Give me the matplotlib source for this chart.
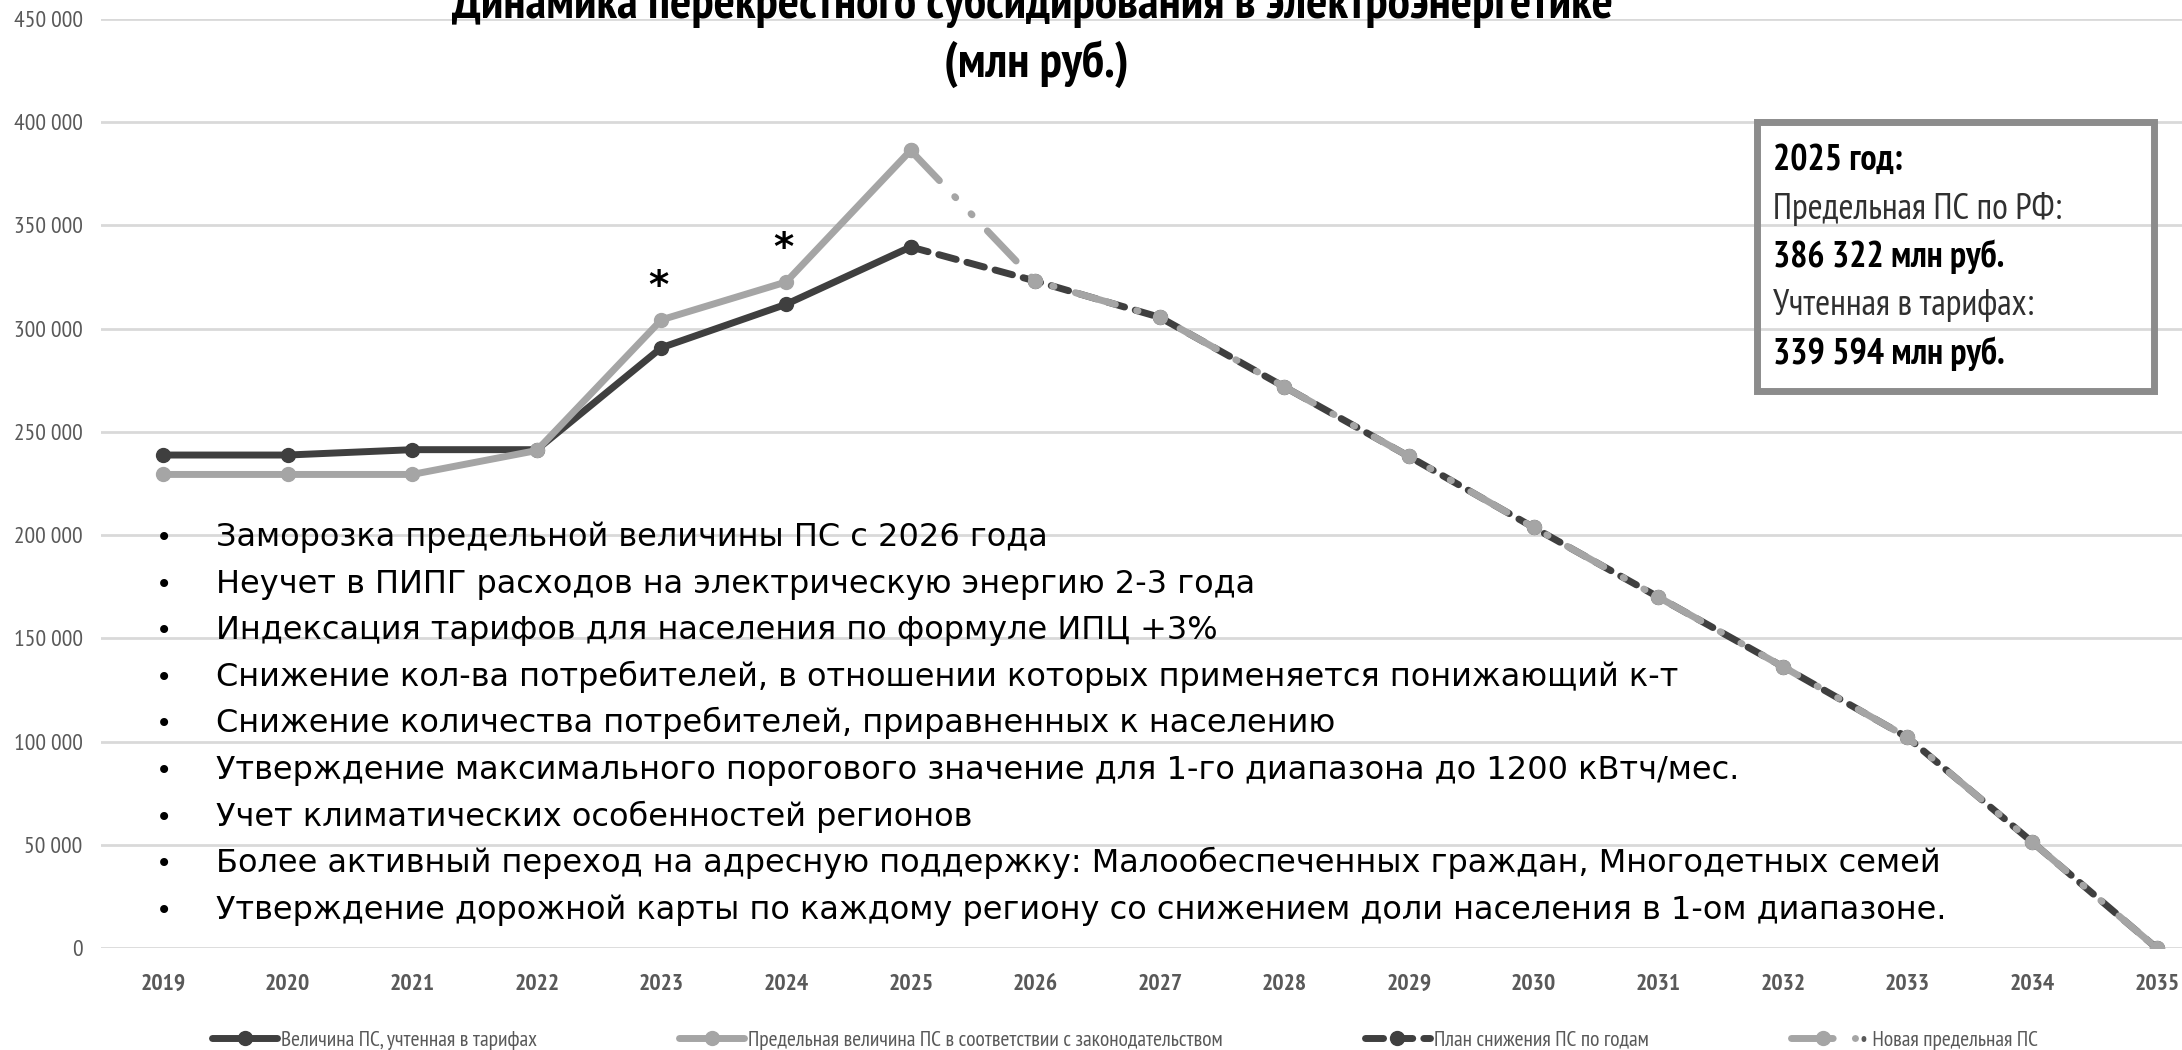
import numpy as np
import matplotlib
matplotlib.use("Agg")
import matplotlib.pyplot as plt
from matplotlib.ticker import FuncFormatter
from matplotlib.patches import Rectangle

# Data (млн руб.)
years = [str(y) for y in range(2019, 2036)]
fact_ps = [238800, 238800, 241400, 241400, 290800, 311800, 339594]        # учтенная в тарифах
limit_ps = [229400, 229400, 229400, 241000, 304300, 322600, 386322]       # предельная по закону
plan_ps = [339594, 323100, 305500, 271800, 238100, 203700, 170000, 136300, 102000, 51400, 0]
new_limit_ps = [386322, 323100, 305500, 271800, 238100, 203700, 170000, 136300, 102000, 51400, 0]
star_years = ["2023", "2024"]

labels = ["Величина ПС, учтенная в тарифах",
          "Предельная величина ПС в соответствии с законодательством",
          "План снижения ПС по годам",
          "• Новая предельная ПС"]

bullets = ["Заморозка предельной величины ПС с 2026 года",
           "Неучет в ПИПГ расходов на электрическую энергию 2-3 года",
           "Индексация тарифов для населения по формуле ИПЦ +3%",
           "Снижение кол-ва потребителей, в отношении которых применяется понижающий к-т",
           "Снижение количества потребителей, приравненных к населению",
           "Утверждение максимального порогового значение для 1-го диапазона до 1200 кВтч/мес.",
           "Учет климатических особенностей регионов",
           "Более активный переход на адресную поддержку: Малообеспеченных граждан, Многодетных семей",
           "Утверждение дорожной карты по каждому региону со снижением доли населения в 1-ом диапазоне."]

box_lines = [("2025 год:", "bold"),
             ("Предельная ПС по РФ:", "normal"),
             ("386 322 млн руб.", "bold"),
             ("Учтенная в тарифах:", "normal"),
             ("339 594 млн руб.", "bold")]

narrow = ["PT Sans Narrow", "Roboto Condensed", "Open Sans Condensed",
          "Liberation Sans Narrow", "DejaVu Sans"]
dark = "#3f3f3f"
gray = "#a5a5a5"
plt.rcParams["lines.scale_dashes"] = False

fig = plt.figure(figsize=(21.82, 10.5), dpi=100)
ax = fig.add_axes([0.04615, 0.0971, 0.9708, 0.8848])

x_fact = np.arange(len(fact_ps))
x_plan = np.arange(len(fact_ps) - 1, len(years))

ax.plot(x_fact, fact_ps, color=dark, lw=5, marker="o", ms=10,
        solid_capstyle="round", label=labels[0], zorder=3)
ax.plot(x_fact, limit_ps, color=gray, lw=5, marker="o", ms=10,
        solid_capstyle="round", label=labels[1], zorder=4)
ax.plot(x_plan, plan_ps, color=dark, lw=5, marker="o", ms=10,
        dashes=(13, 8), dash_capstyle="round", label=labels[2], zorder=3)
ax.plot(x_plan, new_limit_ps, color=gray, lw=5, marker="o", ms=10,
        dashes=(30, 16, 1, 16, 1, 16), dash_capstyle="round", label=labels[3], zorder=4)

for yr in star_years:
    i = years.index(yr)
    ax.annotate("*", xy=(i, limit_ps[i]), xytext=(-2, 16), textcoords="offset points",
                ha="center", va="baseline", fontsize=28, fontweight="bold", color="black")

ax.set_xlim(-0.5, len(years) - 0.5)
ax.set_ylim(0, 450000)
ax.set_yticks(np.arange(0, 450001, 50000))
ax.yaxis.set_major_formatter(FuncFormatter(lambda v, p: f"{int(v):,}".replace(",", " ")))
ax.set_xticks(np.arange(len(years)))
ax.set_xticklabels(years)
ax.grid(axis="y", color="#d9d9d9", lw=2)
ax.set_axisbelow(True)
for s in ax.spines.values():
    s.set_visible(False)
ax.tick_params(axis="both", length=0, colors="#595959")
ax.tick_params(axis="y", pad=13)
ax.tick_params(axis="x", pad=19)
for t in ax.get_yticklabels():
    t.set_family(narrow)
    t.set_fontsize(17)
for t in ax.get_xticklabels():
    t.set_family(narrow)
    t.set_fontsize(17)
    t.set_fontweight("bold")

# Title
fig.text(0.473, 1 - 18 / 1050, "Динамика перекрестного субсидирования в электроэнергетике",
         ha="center", va="baseline", fontsize=36, fontweight="bold", family=narrow)
fig.text(0.475, 1 - 78 / 1050, "(млн руб.)",
         ha="center", va="baseline", fontsize=36, fontweight="bold", family=narrow)

# Bullet list
for k, line in enumerate(bullets):
    yb = 1 - (546 + k * 46.6) / 1050
    fig.text(164 / 2182, yb, "•", ha="center", va="baseline", fontsize=20,
             family="DejaVu Sans", color="black")
    fig.text(216 / 2182, yb, line, ha="left", va="baseline", fontsize=23,
             family="DejaVu Sans", color="black")

# Info box
fig.patches.append(Rectangle((1756.5 / 2182, 1 - 391.5 / 1050), 397 / 2182, 269 / 1050,
                             transform=fig.transFigure, fill=False,
                             edgecolor="#8c8c8c", lw=5))
for k, (line, w) in enumerate(box_lines):
    yb = 1 - (170 + k * 48.5) / 1050
    fig.text(1773 / 2182, yb, line, ha="left", va="baseline", fontsize=26,
             fontweight=w, family=narrow, color="black" if w == "bold" else "#303030")

# Legend
leg = fig.legend(loc="center", bbox_to_anchor=(0.5156, 10 / 1050), ncol=4, frameon=False,
                 prop={"family": narrow, "size": 15.5}, labelcolor="#595959",
                 handlelength=3.0, handletextpad=0.2, columnspacing=6.6, numpoints=1)

fig.savefig("out.png", dpi=100)
